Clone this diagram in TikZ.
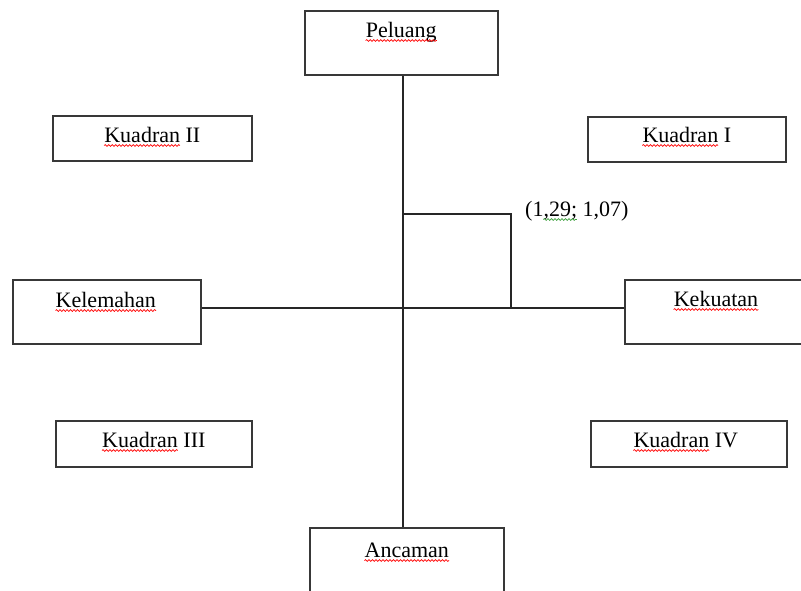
\documentclass[tikz,border=0pt]{standalone}
\usepackage{fontspec}
\setmainfont{Liberation Serif}
\usetikzlibrary{decorations.pathmorphing,calc}
\definecolor{spellgreen}{RGB}{60,160,60}
\begin{document}
\begin{tikzpicture}[x=1pt,y=-1pt,
  box/.style={draw=black!78, line width=1.6pt, rectangle, inner sep=0pt, anchor=north west},
  lbl/.style={font=\fontsize{22}{26}\selectfont, inner sep=0pt, anchor=base},
  conn/.style={draw=black!85, line width=1.2pt},
  wavy/.style={draw=red, line width=0.7pt, decorate, decoration={snake, segment length=3.5pt, amplitude=0.9pt}},
  gwavy/.style={wavy, draw=spellgreen}
]
\useasboundingbox (0,0) rectangle (801,590);
\clip (0,0) rectangle (801,590);
\fill[white] (0,0) rectangle (801,590);

% boxes
\node[box, minimum width=193, minimum height=64] (pel) at (304,10) {};
\node[box, minimum width=199, minimum height=45] (k2) at (52,115) {};
\node[box, minimum width=198, minimum height=45] (k1) at (587,116) {};
\node[box, minimum width=188, minimum height=64] (kel) at (12,279) {};
\node[box, minimum width=188, minimum height=64] (kek) at (624,279) {};
\node[box, minimum width=196, minimum height=46] (k3) at (55,420) {};
\node[box, minimum width=196, minimum height=46] (k4) at (590,420) {};
\node[box, minimum width=194, minimum height=66] (anc) at (309,527) {};

% texts
\node[lbl] (pelt) at ($(pel.north)+(0,27)$) {Peluang};
\node[lbl] (k2t) at ($(k2.north)+(0,27)$) {Kuadran II};
\node[lbl] (k1t) at ($(k1.north)+(0,26)$) {Kuadran I};
\node[lbl] (kelt) at ($(kel.north)+(-1,28)$) {Kelemahan};
\node[lbl] (kekt) at ($(624,279)+(92,27)$) {Kekuatan};
\node[lbl] (k3t) at ($(k3.north)+(0,27)$) {Kuadran III};
\node[lbl] (k4t) at ($(k4.north)+(-3,27)$) {Kuadran IV};
\node[lbl] (anct) at ($(anc.north)+(0,30)$) {Ancaman};
\node[lbl, anchor=base west] (pt) at (525,216) {(1,29; 1,07)};

% connectors
\coordinate (c) at (403,308);
\coordinate (corner) at (511,214);
\draw[conn] (c |- pel.south) -- (c |- anc.north);
\draw[conn] (kel.east |- c) -- (kek.west |- c);
\draw[conn] (c |- corner) -| (corner |- c);

% spell-check squiggles
\draw[wavy] ($(pelt.base west)+(0,3.5)$) -- ($(pelt.base east)+(0,3.5)$);
\draw[wavy] ($(kelt.base west)+(0,3.5)$) -- ($(kelt.base east)+(0,3.5)$);
\draw[wavy] ($(kekt.base west)+(0,3.5)$) -- ($(kekt.base east)+(0,3.5)$);
\draw[wavy] ($(anct.base west)+(0,3.5)$) -- ($(anct.base east)+(0,3.5)$);
\draw[wavy] ($(k1t.base west)+(0,3.5)$) -- ($(k1t.base west)+(75.7,3.5)$);
\draw[wavy] ($(k2t.base west)+(0,3.5)$) -- ($(k2t.base west)+(75.7,3.5)$);
\draw[wavy] ($(k3t.base west)+(0,3.5)$) -- ($(k3t.base west)+(75.7,3.5)$);
\draw[wavy] ($(k4t.base west)+(0,3.5)$) -- ($(k4t.base west)+(75.7,3.5)$);
\draw[gwavy] ($(pt.base west)+(18.3,3.5)$) -- ($(pt.base west)+(51.9,3.5)$);
\end{tikzpicture}
\end{document}
